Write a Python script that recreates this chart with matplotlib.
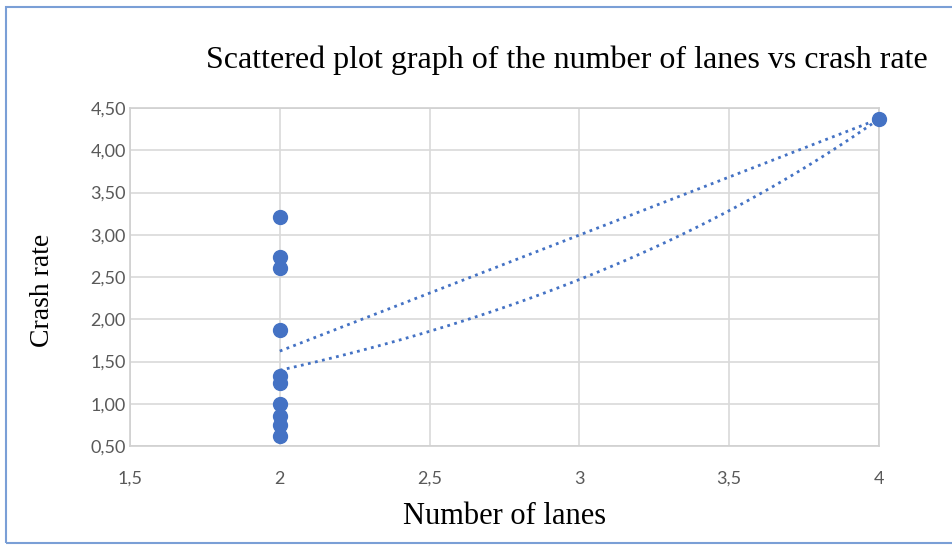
import numpy as np
import matplotlib.pyplot as plt
from matplotlib.ticker import FuncFormatter
from matplotlib.patches import Rectangle

# data
lanes = [2, 2, 2, 2, 2, 2, 2, 2, 2, 2, 4]
crash_rate = [3.21, 2.74, 2.61, 1.87, 1.33, 1.25, 1.00, 0.85, 0.75, 0.62, 4.37]

x_ticks = [1.5, 2, 2.5, 3, 3.5, 4]
y_ticks = [0.5, 1.0, 1.5, 2.0, 2.5, 3.0, 3.5, 4.0, 4.5]

BLUE = "#4472C4"
SERIF = "Liberation Serif"

fig = plt.figure(figsize=(9.52, 5.46), dpi=100)
ax = fig.add_axes([130 / 952, 1 - 446 / 546, 749 / 952, 338 / 546])

# frame of the chart area
fig.patches.append(Rectangle((0.006, 0.006), 1.2, 0.981, transform=fig.transFigure,
                             fill=False, edgecolor="#7a9fd6", linewidth=1.5))

x = np.array(lanes, dtype=float)
y = np.array(crash_rate)
xs = np.linspace(x.min(), x.max(), 100)

# linear trendline
a, b = np.polyfit(x, y, 1)
ax.plot(xs, a * xs + b, color=BLUE, linestyle=(0, (1, 1.6)), linewidth=2.0, zorder=2)

# exponential trendline
k, c = np.polyfit(x, np.log(y), 1)
ax.plot(xs, np.exp(c) * np.exp(k * xs), color=BLUE, linestyle=(0, (1, 1.6)),
        linewidth=2.0, zorder=2)

ax.scatter(x, y, s=100, color=BLUE, zorder=3, clip_on=False)

ax.set_xlim(1.5, 4)
ax.set_ylim(0.5, 4.5)
ax.set_xticks(x_ticks)
ax.set_yticks(y_ticks)
ax.xaxis.set_major_formatter(FuncFormatter(lambda v, p: f"{v:g}".replace(".", ",")))
ax.yaxis.set_major_formatter(FuncFormatter(lambda v, p: f"{v:.2f}".replace(".", ",")))
ax.grid(True, color="#d9d9d9", linewidth=1.2)
ax.set_axisbelow(True)
for s in ax.spines.values():
    s.set_color("#d0d0d0")
    s.set_linewidth(1.2)
ax.tick_params(length=0, labelsize=13, labelcolor="#595959")
ax.tick_params(axis="x", pad=18)
ax.tick_params(axis="y", pad=3)
for lab in ax.get_xticklabels() + ax.get_yticklabels():
    lab.set_family("Lato")

ax.set_xlabel("Number of lanes", family=SERIF, fontsize=22)
ax.xaxis.set_label_coords(0.5, -0.165)
ax.set_ylabel("Crash rate", family=SERIF, fontsize=20)
ax.yaxis.set_label_coords(-0.1, 0.459)
fig.text(567 / 952, 1 - 60 / 546, "Scattered plot graph of the number of lanes vs crash rate",
         family=SERIF, fontsize=23, ha="center", va="center")

fig.savefig("out.png", dpi=100)
